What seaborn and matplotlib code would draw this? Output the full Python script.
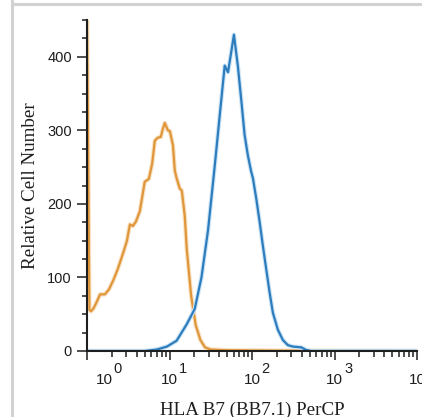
import matplotlib
matplotlib.use("Agg")
import matplotlib.pyplot as plt
import matplotlib.patheffects as pe
from matplotlib.lines import Line2D
from matplotlib.ticker import MultipleLocator, LogLocator
import numpy as np
import pandas as pd
import seaborn as sns

# ---- data ----
control_intensity = [1.00, 1.07, 1.12, 1.20, 1.29, 1.44, 1.65, 1.85, 2.10, 2.37,
                     2.72, 3.05, 3.31, 3.60, 3.92, 4.37, 5.01, 5.62, 6.17, 6.64,
                     7.21, 7.85, 8.30, 8.77, 9.55, 10.1, 11.0, 11.6, 12.2, 13.3,
                     14.1, 15.3, 16.2, 18.3, 20.8, 23.7, 26.9, 31.6, 50.0, 200.0,
                     10000.0]
control_count = [460, 56, 54, 58, 65, 77, 77, 84, 97, 112,
                 132, 150, 172, 170, 176, 190, 230, 234, 255, 286,
                 290, 291, 302, 310, 300, 299, 280, 245, 235, 221,
                 218, 184, 138, 75, 35, 15, 5, 2, 1, 0.5,
                 0]

stained_intensity = [1.0, 5.0, 7.0, 9.3, 12.2, 16.1, 20.2, 24.4, 29.3, 35.3,
                     40.6, 46.7, 51.2, 56.1, 60.4, 67.6, 74.3, 81.3, 89.1, 97.7,
                     102.6, 112.7, 123.6, 135.5, 148.9, 163.3, 179.1, 205.6, 236.6, 271.6,
                     312.6, 394.5, 453.6, 521.2, 10000.0]
stained_count = [0, 0, 2, 6, 14, 36, 57, 100, 164, 251,
                 320, 388, 379, 407, 430, 386, 340, 294, 266, 244,
                 235, 207, 176, 143, 111, 80, 52, 29, 15, 8,
                 6, 5, 1.4, 0, 0]

sample_names = ["Isotype control", "HLA B7 (BB7.1) PerCP"]
sample_colors = ["#E0963A", "#2D7DBE"]
halo_colors = ["#F8E2C4", "#CDE5F5"]

decades = [0, 1, 2, 3, 4]
y_label = "Relative Cell Number"
x_label = "HLA B7 (BB7.1) PerCP"

df = pd.concat([
    pd.DataFrame({"intensity": control_intensity, "count": control_count,
                  "sample": sample_names[0]}),
    pd.DataFrame({"intensity": stained_intensity, "count": stained_count,
                  "sample": sample_names[1]}),
], ignore_index=True)

# ---- style ----
sns.set_style("ticks")
plt.rcParams["font.family"] = ["Liberation Sans", "DejaVu Sans"]

fig = plt.figure(figsize=(4.22, 4.17), dpi=100)
ax = fig.add_axes([87 / 422, 1 - 351 / 417, 330 / 422, 331 / 417])

sns.lineplot(data=df, x="intensity", y="count", hue="sample",
             palette=sample_colors, estimator=None, sort=False,
             linewidth=1.6, legend=False, ax=ax)

for line, halo in zip(ax.get_lines(), halo_colors):
    line.set_path_effects([pe.Stroke(linewidth=3.2, foreground=halo), pe.Normal()])

ax.set_xscale("log")
ax.set_xlim(1, 1e4)
ax.set_ylim(0, 450)

for s in ["top", "right"]:
    ax.spines[s].set_visible(False)
for s in ["left", "bottom"]:
    ax.spines[s].set_linewidth(1.5)
    ax.spines[s].set_color("#1e1e1e")
    ax.spines[s].set_zorder(3)

ax.yaxis.set_major_locator(MultipleLocator(100))
ax.yaxis.set_minor_locator(MultipleLocator(25))
ax.xaxis.set_major_locator(LogLocator(base=10, numticks=10))
ax.xaxis.set_minor_locator(LogLocator(base=10, subs=np.arange(2, 10), numticks=20))

ax.tick_params(axis="y", which="major", length=7.2, width=1.1, pad=3.6,
               labelsize=10.5, colors="#1e1e1e", direction="out")
ax.tick_params(axis="y", which="minor", length=3.8, width=1.1, colors="#1e1e1e",
               direction="out")
ax.tick_params(axis="x", which="major", length=6.5, width=1.1, colors="#1e1e1e",
               labelbottom=False, direction="out")
ax.tick_params(axis="x", which="minor", length=4.3, width=1.1, colors="#1e1e1e",
               direction="out")

# decade labels drawn as 10 with a raised exponent
for d in decades:
    dx = 17 if d == 0 else 0
    ax.annotate("10", xy=(10.0 ** d, 0), xycoords=("data", "axes fraction"),
                xytext=(dx, -22), textcoords="offset pixels", ha="center", va="top",
                fontsize=11, color="#1e1e1e", annotation_clip=False)
    ax.annotate(str(d), xy=(10.0 ** d, 0), xycoords=("data", "axes fraction"),
                xytext=(dx + 9.5, -11), textcoords="offset pixels", ha="left", va="top",
                fontsize=10.5, color="#1e1e1e", annotation_clip=False)

ax.set_ylabel(y_label, fontsize=13.7, family=["Liberation Serif", "DejaVu Serif"],
              color="#1e1e1e")
ax.yaxis.set_label_coords(-0.145, 0.5)
ax.set_xlabel(x_label, fontsize=13.7, family=["Liberation Serif", "DejaVu Serif"],
              color="#1e1e1e")
ax.xaxis.set_label_coords(0.5, -0.152)

# page frame lines seen in the reference
fig.add_artist(Line2D([12 / 422, 12 / 422], [0, 1], transform=fig.transFigure,
                      color="#d2d2d2", linewidth=2.2))
fig.add_artist(Line2D([12 / 422, 1], [1 - 4 / 417, 1 - 4 / 417], transform=fig.transFigure,
                      color="#d2d2d2", linewidth=2.2))

fig.savefig("out.png", dpi=100)
